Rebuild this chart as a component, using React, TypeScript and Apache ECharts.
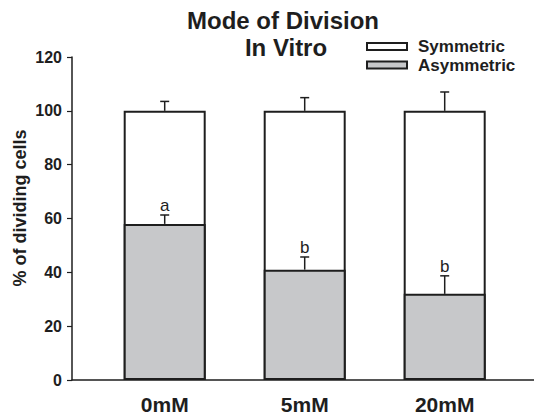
import React, { useEffect, useRef } from "react";
import * as echarts from "echarts";

const categories = ["0mM", "5mM", "20mM"];
const asymmetric = [58, 41, 32];
const symmetric = [42, 59, 68];
const asymErr = [3.3, 4.7, 6.7];
const symErr = [3.5, 4.9, 7];
const letters = ["a", "b", "b"];

const FONT = "'Liberation Sans', Arial, Helvetica, sans-serif";
const INK = "#1e1e1e";
const GRAY = "#c7c8ca";

export default function App() {
  const ref = useRef<HTMLDivElement>(null);
  useEffect(() => {
    if (!ref.current) return;
    const chart = echarts.init(ref.current, null, { renderer: "svg" });
    const asymTops = asymmetric;
    const symTops = asymmetric.map((v, i) => v + symmetric[i]);

    const errRender = (withLetters: boolean, errs: number[], tops: number[]) =>
      (params: any, api: any) => {
        const i = params.dataIndex;
        const top = tops[i];
        const err = errs[i];
        const p0 = api.coord([i, top]);
        const p1 = api.coord([i, top + err]);
        const children: any[] = [
          { type: "line", shape: { x1: p0[0], y1: p0[1], x2: p1[0], y2: p1[1] }, style: { stroke: INK, lineWidth: 1.5 } },
          { type: "line", shape: { x1: p1[0] - 4.5, y1: p1[1], x2: p1[0] + 4.5, y2: p1[1] }, style: { stroke: INK, lineWidth: 1.5 } },
        ];
        if (withLetters) {
          children.push({
            type: "text",
            style: {
              text: letters[i],
              x: p1[0],
              y: p1[1] - 1,
              align: "center",
              verticalAlign: "bottom",
              fontSize: 17,
              fontFamily: FONT,
              fill: INK,
            },
          });
        }
        return { type: "group", children };
      };

    chart.setOption({
      animation: false,
      grid: [
        { left: 94.7, right: 19.3, top: 57, bottom: 38 },
        { left: 72, right: 0, top: 57, bottom: 38 },
      ],
      legend: {
        orient: "vertical",
        left: 361,
        top: 33,
        data: ["Symmetric", "Asymmetric"],
        icon: "rect",
        itemWidth: 40,
        itemHeight: 7,
        itemGap: 1.5,
        textStyle: { fontFamily: FONT, fontWeight: "bold", fontSize: 17, color: INK, lineHeight: 17, padding: [0, 0, 0, 6] },
        selectedMode: false,
      },
      xAxis: [
        {
          type: "category",
          gridIndex: 0,
          data: categories,
          axisLine: { show: false },
          axisTick: { alignWithLabel: true, length: 5, lineStyle: { color: INK, width: 1.2 } },
          axisLabel: { fontFamily: FONT, fontWeight: "bold", fontSize: 21, color: INK, margin: 14 },
        },
        {
          type: "value",
          gridIndex: 1,
          min: 0,
          max: 1,
          splitLine: { show: false },
          axisLine: { show: true, lineStyle: { color: INK, width: 1.5 } },
          axisTick: { show: false },
          axisLabel: { show: false },
        },
      ],
      yAxis: [
        {
          type: "value",
          gridIndex: 0,
          min: 0,
          max: 120,
          interval: 20,
          offset: 22.7,
          splitLine: { show: false },
          axisLine: { show: true, lineStyle: { color: INK, width: 1.5 } },
          axisTick: { show: true, length: 5, lineStyle: { color: INK, width: 1.2 } },
          axisLabel: { fontFamily: FONT, fontWeight: "bold", fontSize: 16, color: INK, margin: 10 },
        },
        {
          type: "value",
          gridIndex: 1,
          min: 0,
          max: 1,
          show: false,
        },
      ],
      graphic: [
        { type: "text", x: 283, y: 20, style: { text: "Mode of Division", align: "center", verticalAlign: "middle", fontFamily: FONT, fontWeight: "bold", fontSize: 24, fill: INK } },
        { type: "text", x: 286, y: 47, style: { text: "In Vitro", align: "center", verticalAlign: "middle", fontFamily: FONT, fontWeight: "bold", fontSize: 24, fill: INK } },
        { type: "text", x: 20, y: 208, rotation: Math.PI / 2, style: { text: "% of dividing cells", align: "center", verticalAlign: "middle", fontFamily: FONT, fontWeight: "bold", fontSize: 18, fill: INK } },
      ],
      series: [
        {
          name: "Symmetric",
          type: "bar",
          barWidth: 82,
          data: symTops,
          itemStyle: { color: "#ffffff", borderColor: INK, borderWidth: 2 },
          z: 2,
        },
        {
          name: "Asymmetric",
          type: "bar",
          barWidth: 82,
          barGap: "-100%",
          data: asymmetric,
          itemStyle: { color: GRAY, borderColor: INK, borderWidth: 2 },
          z: 3,
        },
        {
          type: "custom",
          renderItem: errRender(true, asymErr, asymTops),
          data: asymTops,
          z: 5,
        },
        {
          type: "custom",
          renderItem: errRender(false, symErr, symTops),
          data: symTops,
          z: 5,
        },
      ],
    });
    return () => chart.dispose();
  }, []);
  return <div ref={ref} style={{ position: "fixed", left: 0, top: 0, width: 534, height: 418, background: "#fff" }} />;
}
